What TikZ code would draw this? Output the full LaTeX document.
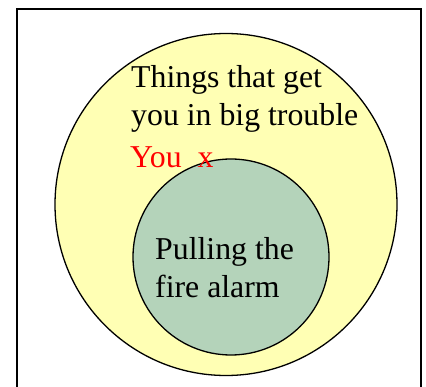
\documentclass[tikz,border=0pt]{standalone}
\usepackage{fontspec}
\setmainfont{Liberation Serif}
\usetikzlibrary{positioning}
\definecolor{troubleyellow}{RGB}{255,255,180}
\definecolor{alarmgreen}{RGB}{180,211,186}

\begin{document}
\begin{tikzpicture}[
  x=1pt, y=-1pt,
  setcircle/.style={circle, draw=black, line width=1.3pt, inner sep=0pt},
  setlabel/.style={anchor=base west, inner sep=0pt, align=left, font=\fontsize{31.8}{38}\selectfont}
]
\useasboundingbox (0,0) rectangle (426,387);
\clip (0,0) rectangle (426,387);
\draw[line width=1.3pt] (17,9) rectangle (421,420);
\node[setcircle, fill=troubleyellow, minimum size=342pt] (trouble) at (226,204.5) {};
\node[setcircle, fill=alarmgreen, minimum size=196pt] (alarm) at (231,257) {};
% multi-line labels sit on the baseline of their last line
\node[setlabel] (troubletext) at (131,126) {Things that get\\you in big trouble};
\node[setlabel, text=red] (you) at (130,168) {You\ \ x};
\node[setlabel] (alarmtext) at (155,298) {Pulling the\\fire alarm};
\end{tikzpicture}
\end{document}
